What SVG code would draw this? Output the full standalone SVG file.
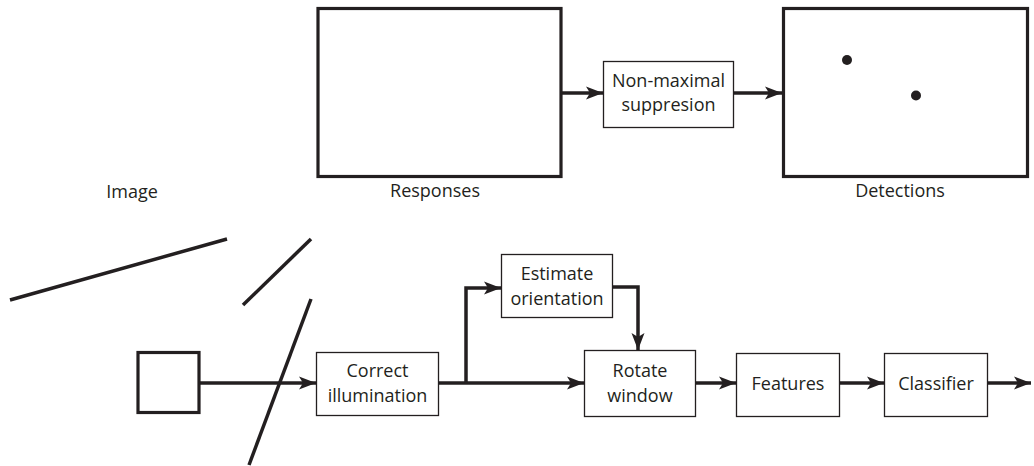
<svg xmlns="http://www.w3.org/2000/svg" width="1034" height="466" viewBox="0 0 1034 466">
<defs>
<style>
.big{fill:#fff;stroke:#231f20;stroke-width:3.2}
.box{fill:#fff;stroke:#231f20;stroke-width:1.3}
.ln{fill:none;stroke:#231f20;stroke-width:3.5}
.cn{fill:none;stroke:#231f20;stroke-width:3.5;marker-end:url(#ah)}
text{font-family:"Open Sans","Liberation Sans",sans-serif;font-size:18px;fill:#231f20;text-anchor:middle}
</style>
<marker id="ah" markerUnits="userSpaceOnUse" markerWidth="20" markerHeight="14" refX="17" refY="7" orient="auto">
<path d="M0,0.5 L17,7 L0,13.5 L4,7 Z" fill="#231f20"/>
</marker>
</defs>
<rect width="1034" height="466" fill="#fff"/>
<g id="connectors">
<line class="cn" x1="562" y1="93" x2="603" y2="93"/>
<line class="cn" x1="734" y1="93" x2="782" y2="93"/>
<line class="cn" x1="199" y1="383" x2="316" y2="383"/>
<line class="cn" x1="439" y1="383" x2="584" y2="383"/>
<polyline class="cn" points="466,383 466,288 501,288"/>
<polyline class="cn" points="613,287 638,287 638,350"/>
<line class="cn" x1="696" y1="383" x2="736" y2="383"/>
<line class="cn" x1="840" y1="383" x2="884" y2="383"/>
<line class="cn" x1="988" y1="383" x2="1031" y2="383"/>
</g>
<g id="image-lines">
<line class="ln" x1="10" y1="300" x2="227" y2="239"/>
<line class="ln" x1="243" y1="305" x2="311" y2="239"/>
<line class="ln" x1="311" y1="299" x2="249" y2="465"/>
</g>
<g id="responses">
<rect class="big" x="318" y="8.5" width="243" height="168"/>
<text x="435" y="197">Responses</text>
</g>
<g id="nms">
<rect class="box" x="603.5" y="61.5" width="130" height="66"/>
<text x="668.5" y="87">Non-maximal</text>
<text x="668.5" y="111">suppresion</text>
</g>
<g id="detections">
<rect class="big" x="783.5" y="8.5" width="244" height="168"/>
<circle cx="847" cy="60" r="5" fill="#231f20"/>
<circle cx="916" cy="95.5" r="5" fill="#231f20"/>
<text x="900" y="197">Detections</text>
</g>
<g id="image-label">
<text x="132" y="198">Image</text>
</g>
<g id="window">
<rect class="big" x="138" y="352.5" width="61" height="60"/>
</g>
<g id="correct">
<rect class="box" x="316.5" y="352.5" width="122" height="63"/>
<text x="377.5" y="377">Correct</text>
<text x="377.5" y="402">illumination</text>
</g>
<g id="estimate">
<rect class="box" x="501.5" y="254.5" width="111" height="63"/>
<text x="557" y="280">Estimate</text>
<text x="557" y="305">orientation</text>
</g>
<g id="rotate">
<rect class="box" x="584.5" y="350.5" width="111" height="66"/>
<text x="640" y="377">Rotate</text>
<text x="640" y="402">window</text>
</g>
<g id="features">
<rect class="box" x="736.5" y="353.5" width="103" height="63"/>
<text x="788" y="390">Features</text>
</g>
<g id="classifier">
<rect class="box" x="884.5" y="353.5" width="103" height="63"/>
<text x="936" y="390">Classifier</text>
</g>
</svg>
